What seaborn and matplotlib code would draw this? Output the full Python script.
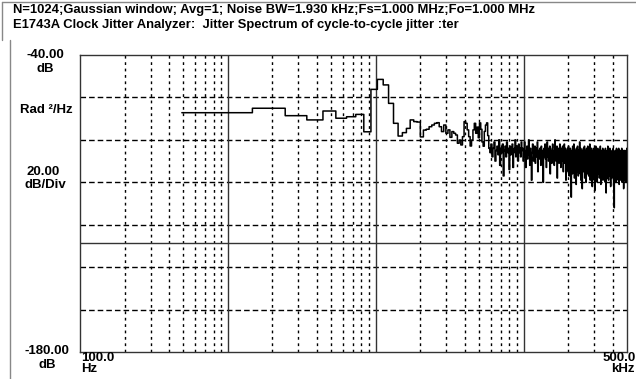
import numpy as np
import pandas as pd
import matplotlib
matplotlib.use("Agg")
import matplotlib.pyplot as plt
import seaborn as sns
from matplotlib import font_manager
from matplotlib.lines import Line2D

# ---------------- data ----------------
FS = 1.0e6          # sample rate (Fs=1.000 MHz)
NFFT = 1024         # N=1024

# jitter spectrum in dB Rad^2/Hz, bin 1 .. 512
spec_low = [
    -67.2, -65.1, -68.6, -70.6, -66.4, -69.8, -69.1, -68.0, -76.2, -56.2,
    -51.5, -54.1, -62.8, -72.2, -78.2, -76.6, -74.6, -70.6, -71.4, -71.6,
    -78.6, -75.4, -75.0, -73.8, -73.0, -72.2, -71.9, -73.8, -76.1, -73.0,
    -76.9, -75.3, -78.8, -76.1, -76.9, -77.7, -81.6, -80.1, -82.4, -78.5,
    -71.4, -72.2, -75.3, -78.5, -82.9, -80.1, -75.3, -72.2, -76.9,
]
spec_mid = [
    -74, -79, -72, -75, -81, -83, -76, -73, -72, -78, -84,
    -86, -82, -88, -84, -81, -90, -85, -83, -87, -80,
    -92, -84, -86, -82, -97, -85, -83, -88, -81, -86,
    -84, -94, -83, -87, -85, -82, -93, -86, -84, -80,
    -88, -83, -85, -90, -82, -86, -84, -88, -81, -85,
]
spec_high1 = [
    -84, -90, -86, -81, -88, -93, -85, -83, -89, -87,
    -80, -86, -92, -84, -88, -99, -86, -82, -85, -90,
    -87, -83, -91, -86, -84, -88, -81, -95, -87, -85,
    -89, -84, -86, -92, -83, -87, -90, -85, -100, -88,
    -84, -86, -82, -89, -87, -93, -85, -81, -88, -86,
    -90, -84, -87, -83, -96, -88, -85, -86, -91, -84,
    -82, -89, -87, -85, -92, -86, -80, -88, -84, -90,
    -86, -83, -98, -87, -85, -89, -84, -91, -86, -82,
    -88, -85, -93, -87, -84, -90, -86, -83, -89, -95,
    -85, -87, -82, -88, -91, -84, -86, -99, -88, -85,
]
spec_high2 = [
    -86, -92, -84, -90, -95, -83, -88, -97, -85, -91,
    -89, -84, -93, -100, -107, -88, -85, -92, -96, -83,
    -90, -87, -94, -82, -89, -98, -86, -91, -85, -93,
    -88, -101, -84, -90, -95, -86, -83, -92, -89, -97,
    -85, -91, -87, -94, -81, -88, -96, -90, -84, -99,
    -87, -92, -86, -89, -103, -85, -93, -88, -91, -84,
    -95, -87, -90, -83, -98, -89, -86, -94, -91, -85,
    -100, -88, -84, -92, -87, -96, -90, -83, -93, -89,
    -86, -97, -91, -85, -88, -94, -82, -90, -99, -87,
    -92, -86, -89, -95, -84, -91, -88, -102, -90, -86,
]
spec_high3 = [
    -91, -85, -93, -88, -96, -84, -90, -99, -87, -104,
    -92, -86, -89, -95, -83, -91, -88, -97, -85, -93,
    -90, -100, -86, -92, -84, -89, -96, -91, -87, -94,
    -85, -90, -98, -88, -93, -86, -91, -83, -95, -89,
    -101, -87, -92, -85, -90, -97, -88, -94, -86, -91,
    -84, -99, -89, -93, -87, -90, -96, -85, -92, -88,
    -95, -86, -91, -89, -100, -84, -93, -87, -90, -105,
    -88, -94, -86, -92, -98, -85, -90, -89, -96, -83,
    -91, -87, -93, -99, -86, -90, -85, -95, -88, -92,
    -97, -84, -91, -89, -94, -86, -102, -88, -90, -93,
]
spec_high4 = [
    -89, -95, -86, -92, -98, -85, -91, -88, -94, -87,
    -90, -96, -84, -93, -89, -101, -86, -92, -104, -112,
    -88, -94, -86, -91, -97, -85, -90, -93, -88, -100,
    -86, -92, -89, -95, -84, -91, -98, -87, -93, -90,
    -85, -96, -89, -92, -86, -99, -88, -94, -90, -84,
    -93, -87, -101, -89, -91, -86, -95, -88, -92, -97,
    -85, -90, -94, -87, -99, -89, -92, -86, -96, -88,
    -91, -84, -93, -100, -87, -90, -95, -86, -92, -89,
    -98, -85, -91, -88, -94, -103, -87, -90, -93, -86,
    -96, -89, -92, -85, -99, -88, -91, -94, -87, -90,
    -86, -97, -89, -93, -85, -100, -88, -92, -90, -95,
    -84, -91,
]

y_top, y_bottom, db_per_div = -40.0, -180.0, 20.0
ref_line_db = -128.8
f_min, f_max = 100.0, 500e3

title1 = "N=1024;Gaussian window; Avg=1; Noise BW=1.930 kHz;Fs=1.000 MHz;Fo=1.000 MHz"
title2 = "E1743A Clock Jitter Analyzer:  Jitter Spectrum of cycle-to-cycle jitter :ter"

# ---------------- build table ----------------
spec = np.array(spec_low + spec_mid + spec_high1 + spec_high2 + spec_high3 + spec_high4, float)
df_bin = FS / NFFT
k = np.arange(1, len(spec) + 1)
edges = (np.append(k, k[-1] + 1) - 0.5) * df_bin
vals = np.append(spec, spec[-1])
data = pd.DataFrame({"freq": edges, "db": vals})

# ---------------- style ----------------
sns.set_theme(style="white")
names = {f.name for f in font_manager.fontManager.ttflist}
fam = "Liberation Sans Narrow" if "Liberation Sans Narrow" in names else "Liberation Sans"
plt.rcParams["font.family"] = [fam, "DejaVu Sans"]
plt.rcParams["lines.scale_dashes"] = False

W, H = 636, 379
fig = plt.figure(figsize=(W / 100, H / 100), dpi=100)
fig.patch.set_facecolor("white")

L, R, T, B = 80, 627, 55, 352
ax = fig.add_axes([L / W, 1 - B / H, (R - L) / W, (B - T) / H])
ax.set_facecolor("white")

sns.lineplot(data=data, x="freq", y="db", ax=ax, drawstyle="steps-post",
             color="black", lw=1.1, estimator=None, sort=True, zorder=5)

ax.set_xscale("log")
ax.set_xlim(f_min, f_max)
ax.set_ylim(y_bottom, y_top)

# grid
for dec in [1e2, 1e3, 1e4, 1e5]:
    for m in range(2, 10):
        f = dec * m
        if f < f_max:
            ax.axvline(f, color="black", lw=1.0, ls=(0, (2.0, 2.6)), zorder=1)
for f in [1e3, 1e4, 1e5]:
    ax.axvline(f, color="#333333", lw=1.0, zorder=2)
for yv in np.arange(y_top - db_per_div, y_bottom, -db_per_div):
    ax.axhline(yv, color="black", lw=1.0, ls=(0, (4.0, 2.2)), zorder=1)
ax.axhline(ref_line_db, color="#333333", lw=1.0, zorder=2)

ax.set_xticks([]); ax.set_yticks([])
ax.minorticks_off()
ax.set_xlabel(""); ax.set_ylabel("")
for s in ax.spines.values():
    s.set_visible(True)
    s.set_color("#333333")
    s.set_linewidth(1.0)

def px(x, y):
    return x / W, 1 - y / H

fs_title = 9.4
fs_lab = 9.5
kw = dict(fontweight="bold", color="black")
fig.text(*px(13, 10), title1, ha="left", va="center", fontsize=fs_title, **kw)
fig.text(*px(13, 25), title2, ha="left", va="center", fontsize=fs_title, **kw)

fig.text(*px(45, 55), f"{y_top:.2f}", ha="center", va="center", fontsize=fs_lab, **kw)
fig.text(*px(45, 69), "dB", ha="center", va="center", fontsize=fs_lab, **kw)
fig.text(*px(46, 110), "Rad ²/Hz", ha="center", va="center", fontsize=fs_lab, **kw)
fig.text(*px(43, 172.5), f"{db_per_div:.2f}", ha="center", va="center", fontsize=fs_lab, **kw)
fig.text(*px(45, 185), "dB/Div", ha="center", va="center", fontsize=fs_lab, **kw)
fig.text(*px(47, 351), f"{y_bottom:.2f}", ha="center", va="center", fontsize=fs_lab, **kw)
fig.text(*px(47, 365), "dB", ha="center", va="center", fontsize=fs_lab, **kw)
fig.text(*px(81, 358), f"{f_min:.1f}", ha="left", va="center", fontsize=fs_lab, **kw)
fig.text(*px(81, 369), "Hz", ha="left", va="center", fontsize=fs_lab, **kw)
fig.text(*px(636, 358), f"{f_max/1e3:.1f}", ha="right", va="center", fontsize=fs_lab, **kw)
fig.text(*px(635, 369), "kHz", ha="right", va="center", fontsize=fs_lab, **kw)

# outer window frame
fig.add_artist(Line2D([10 / W, 10 / W], [0, 1 - 40 / H], color="#888888", lw=1.0))
fig.add_artist(Line2D([2 / W, 1], [1 - 1.5 / H, 1 - 1.5 / H], color="#888888", lw=1.0))
fig.add_artist(Line2D([2 / W, 2 / W], [1 - 40 / H, 1 - 1.5 / H], color="#888888", lw=1.0))

fig.savefig("out.png", dpi=100, facecolor="white")
print(fam)
